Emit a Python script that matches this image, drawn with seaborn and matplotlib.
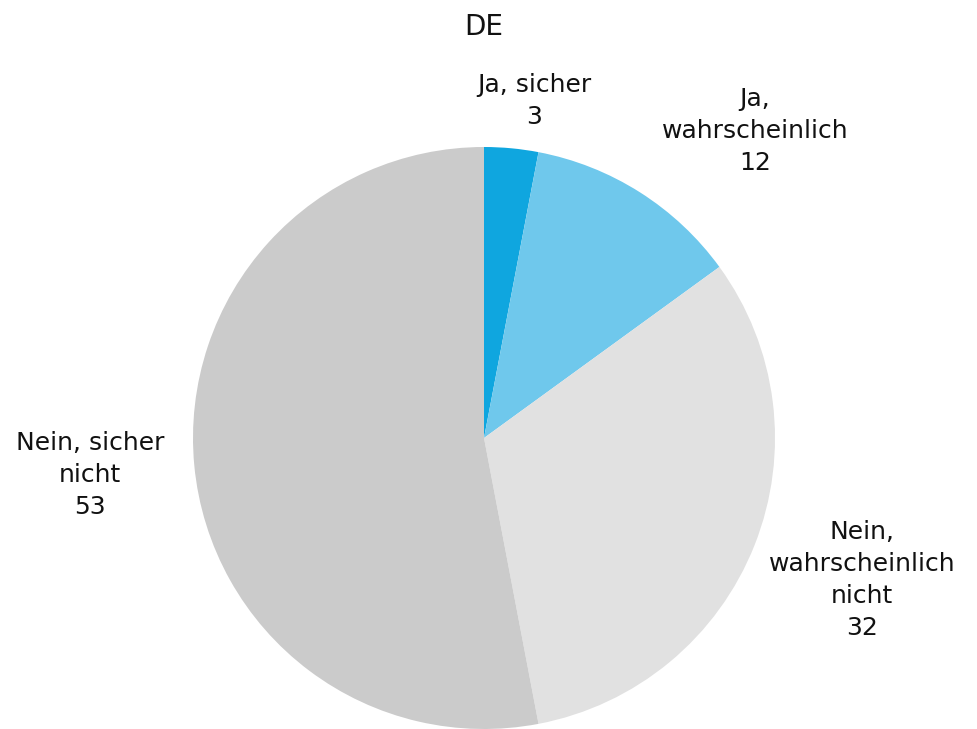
import numpy as np
import matplotlib
matplotlib.use("Agg")
import matplotlib.pyplot as plt
import seaborn as sns

categories = ["Ja, sicher", "Ja,\nwahrscheinlich", "Nein,\nwahrscheinlich\nnicht", "Nein, sicher\nnicht"]
values = [3, 12, 32, 53]
colors = ["#0FA6DF", "#6FC8EC", "#E1E1E1", "#CBCBCB"]
# label anchor offsets from the pie centre, in units of the radius
label_offsets = [(0.172, 1.158), (0.931, 1.055), (1.299, -0.488), (-1.354, -0.127)]

sns.set_theme(style="white")
plt.rcParams["font.family"] = ["DejaVu Sans"]

W, H = 978, 729
fig = plt.figure(figsize=(W / 100, H / 100), dpi=100)
ax = fig.add_axes([0, 0, 1, 1])

cx, cy, r = 484, H - 438, 291
wedges, _ = ax.pie(values, colors=colors, startangle=90, counterclock=False,
                   center=(cx, cy), radius=r, frame=True,
                   wedgeprops=dict(linewidth=0))
ax.set_xlim(0, W)
ax.set_ylim(0, H)
ax.set_aspect("equal")
ax.axis("off")

for cat, val, (ox, oy) in zip(categories, values, label_offsets):
    ax.text(cx + ox * r, cy + oy * r, f"{cat}\n{val}", ha="center", va="center",
            fontsize=18, color="#111111", linespacing=1.42)

ax.text(cx, H - 27, "DE", ha="center", va="center", fontsize=20, color="#111111")

fig.savefig("out.png", dpi=100)
